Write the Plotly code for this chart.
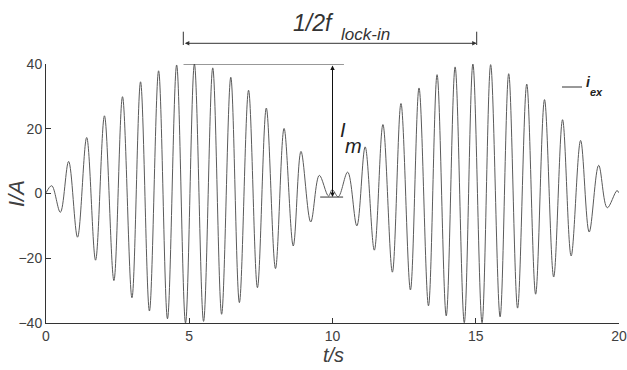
import plotly.graph_objects as go

# Extrema of the current waveform (time in s, current in A)
t_ext = [0.00, 0.20, 0.50, 0.79, 1.10, 1.42, 1.73, 2.04, 2.37, 2.67, 3.00, 3.30, 3.61, 3.93,
         4.24, 4.56, 4.87, 5.18, 5.50, 5.82, 6.13, 6.45, 6.75, 7.07, 7.38, 7.69, 8.01, 8.31,
         8.63, 8.90, 9.24, 9.54, 9.86, 9.99, 10.20, 10.53, 10.85, 11.14, 11.46, 11.76, 12.09,
         12.39, 12.72, 13.02, 13.35, 13.65, 13.97, 14.28, 14.60, 14.90, 15.22, 15.52, 15.85,
         16.15, 16.46, 16.78, 17.09, 17.40, 17.72, 18.03, 18.33, 18.66, 18.96, 19.29, 19.59,
         19.93, 20.00]
i_ext = [0.2, 2.4, -5.8, 9.9, -13.5, 17.3, -20.6, 24.0, -26.9, 29.9, -32.2, 34.5, -36.3, 37.9,
         -38.7, 39.7, -40.0, 40.0, -39.5, 38.8, -37.3, 35.9, -33.7, 31.9, -29.1, 26.4, -23.2, 20.1,
         -16.2, 13.0, -8.8, 5.6, -0.8, 1.2, -1.0, 6.6, -10.0, 14.4, -17.5, 21.3, -24.3,
         27.8, -29.8, 32.6, -34.7, 36.7, -37.8, 39.1, -39.9, 40.0, -39.9, 39.8, -38.1,
         37.0, -35.4, 33.8, -31.1, 29.0, -25.8, 22.8, -19.3, 16.4, -11.9, 8.7, -4.4,
         0.9, 0.2]

x_ticks = [0, 5, 10, 15, 20]
y_ticks = [-40, -20, 0, 20, 40]

FONT = "Liberation Sans, Arial, sans-serif"
AX = "#333333"

fig = go.Figure()
fig.add_trace(go.Scatter(x=t_ext, y=i_ext, mode="lines",
                         line=dict(color="#5a5a5a", width=1, shape="spline", smoothing=1.0),
                         showlegend=False, hoverinfo="skip"))

fig.update_layout(
    width=627, height=370,
    margin=dict(l=46, r=8, t=64, b=47),
    paper_bgcolor="white", plot_bgcolor="white",
    font=dict(family=FONT, size=14, color="#404040"),
    xaxis=dict(range=[0, 20], tickvals=x_ticks, ticks="inside", ticklen=5, tickcolor=AX,
               showline=True, linecolor=AX, linewidth=1, showgrid=False, zeroline=False,
               automargin=False, tickfont=dict(size=14, color="#404040")),
    yaxis=dict(range=[-40, 40], tickvals=y_ticks, ticks="inside", ticklen=5, tickcolor=AX,
               showline=True, linecolor=AX, linewidth=1, showgrid=False, zeroline=False,
               automargin=False, tickfont=dict(size=14, color="#404040")),
)

def px(xp):
    return (xp - 46) / 573.0

def py(yp):
    return (323 - yp) / 259.0

shapes = []
# top bracket end marks
for xp in (183.3, 476.7):
    shapes.append(dict(type="line", xref="paper", yref="paper", x0=px(xp), x1=px(xp),
                       y0=py(31.7), y1=py(45), line=dict(color=AX, width=1)))
# horizontal reference line at peak
shapes.append(dict(type="line", xref="x", yref="y", x0=4.8, x1=10.4, y0=40, y1=40,
                   line=dict(color=AX, width=1)))
# short line at arrow foot
shapes.append(dict(type="line", xref="x", yref="y", x0=9.57, x1=10.37, y0=-1.1, y1=-1.1,
                   line=dict(color=AX, width=1)))
# legend line
shapes.append(dict(type="line", xref="paper", yref="paper", x0=px(562), x1=px(582),
                   y0=py(87), y1=py(87), line=dict(color="#333333", width=1)))
fig.update_layout(shapes=shapes)

ann = []
# top double arrow
ann.append(dict(x=px(476.7), y=py(43.3), xref="paper", yref="paper", ax=-(476.7 - 183.3), ay=0,
                axref="pixel", ayref="pixel", text="", showarrow=True, arrowside="end+start",
                arrowhead=2, startarrowhead=2, arrowsize=0.9, startarrowsize=0.9,
                arrowwidth=1, arrowcolor=AX))
# vertical double arrow
ann.append(dict(x=10, y=-1.1, xref="x", yref="y", ax=10, ay=40, axref="x", ayref="y",
                text="", showarrow=True, arrowside="end+start", arrowhead=2, startarrowhead=2,
                arrowsize=0.9, startarrowsize=0.9, arrowwidth=1, arrowcolor="#111111"))
# texts
def txt(s, xp, yp, size, angle=0, color="#333333"):
    ann.append(dict(x=px(xp), y=py(yp), xref="paper", yref="paper", text=s, showarrow=False,
                    xanchor="center", yanchor="middle", textangle=angle,
                    font=dict(family=FONT, size=size, color=color)))

txt("<i>1/2f</i>", 313, 22.5, 23)
txt("<i>lock-in</i>", 365, 34.5, 17)
txt("<i>I</i>", 342.5, 130, 20, color="#222222")
txt("<i>m</i>", 353.5, 146, 20, color="#222222")
txt("<b><i>i</i></b>", 588.5, 82.4, 14, color="#222222")
txt("<b><i>ex</i></b>", 596.5, 92.4, 11, color="#222222")
txt("<i>I/A</i>", 16, 194, 22, angle=-90, color="#404040")
txt("<i>t/s</i>", 333, 355, 20, color="#404040")
fig.update_layout(annotations=ann)

fig.write_html("out.html", config={"displayModeBar": False},
               post_script="document.body.style.margin='0';")
